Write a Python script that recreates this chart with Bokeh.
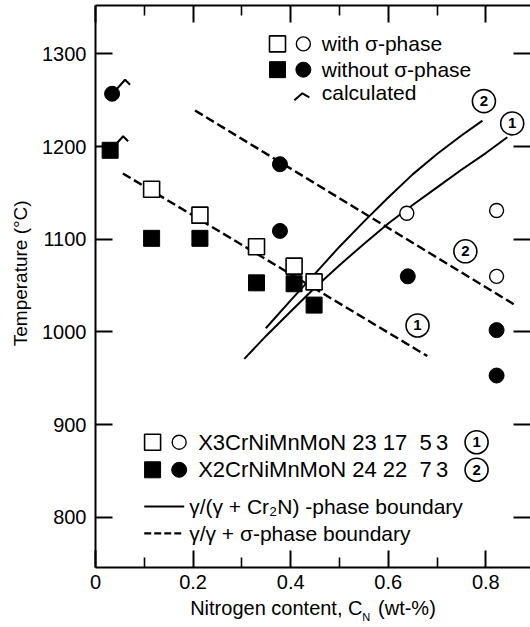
from bokeh.plotting import figure
from bokeh.models import Range1d, LinearAxis, FixedTicker
from bokeh.core.properties import value
from bokeh.embed import file_html
from bokeh.resources import INLINE

FONT = "Liberation Sans"

# ---------------- data ----------------
# open = with sigma-phase, filled = without sigma-phase
open_sq_x = [0.115, 0.214, 0.330, 0.407, 0.448]
open_sq_y = [1154, 1126, 1092, 1071, 1054]
fill_sq_x = [0.030, 0.115, 0.214, 0.330, 0.407, 0.448]
fill_sq_y = [1196, 1101, 1101, 1053, 1052, 1029]
open_ci_x = [0.638, 0.822, 0.822]
open_ci_y = [1128, 1131, 1060]
fill_ci_x = [0.034, 0.378, 0.378, 0.640, 0.822, 0.822]
fill_ci_y = [1257, 1181, 1109, 1060, 1002, 953]
calc_x = [0.034, 0.030]
calc_y = [1257, 1196]

# gamma / gamma + sigma boundaries (dashed)
sigma1_x = [0.056, 0.680]
sigma1_y = [1171, 974]
sigma2_x = [0.204, 0.857]
sigma2_y = [1239, 1030]
# gamma / (gamma + Cr2N) boundaries (solid)
cr2n1_x = [0.305, 0.35, 0.40, 0.45, 0.50, 0.55, 0.60, 0.65, 0.70, 0.75, 0.80, 0.844]
cr2n1_y = [971, 996, 1022, 1048, 1072, 1095, 1117, 1137, 1156, 1175, 1193, 1210]
cr2n2_x = [0.349, 0.40, 0.45, 0.50, 0.55, 0.60, 0.65, 0.70, 0.75, 0.793]
cr2n2_y = [1004, 1034, 1063, 1092, 1119, 1145, 1170, 1192, 1212, 1228]

# circled curve labels
tag_x = [0.796, 0.854, 0.758, 0.660]
tag_y = [1249, 1225, 1087, 1007]
tag_t = ["2", "1", "2", "1"]

x_ticks = [0, 0.2, 0.4, 0.6, 0.8]
x_tick_labels = ["0", "0.2", "0.4", "0.6", "0.8"]
x_minor = [0.1, 0.3, 0.5, 0.7]
y_ticks = [800, 900, 1000, 1100, 1200, 1300]

X_RANGE = (0.0, 0.8915)
Y_RANGE = (745.9, 1352.2)

p = figure(width=530, height=627, output_backend="svg", toolbar_location=None,
           x_range=Range1d(*X_RANGE), y_range=Range1d(*Y_RANGE),
           min_border_left=95, min_border_right=0, min_border_top=5,
           min_border_bottom=60)
p.grid.visible = False
p.outline_line_color = None
p.background_fill_color = "white"
p.border_fill_color = "white"

# pixel -> data helpers for small decorations
plot_w = 530 - 95
plot_h = 627 - 5 - 60
DX = (X_RANGE[1] - X_RANGE[0]) / plot_w
DY = (Y_RANGE[1] - Y_RANGE[0]) / plot_h


def style_axis(ax, ticks, minor, show_labels):
    ax.ticker = FixedTicker(ticks=ticks, minor_ticks=minor)
    ax.axis_line_width = 2
    ax.axis_line_color = "black"
    ax.major_tick_line_width = 2
    ax.major_tick_line_color = "black"
    ax.major_tick_in = 17
    ax.major_tick_out = 0
    ax.minor_tick_line_width = 1.6
    ax.minor_tick_line_color = "black"
    ax.minor_tick_in = 10
    ax.minor_tick_out = 0
    ax.major_label_text_font = FONT
    ax.major_label_text_font_size = "20px" if show_labels else "0px"
    ax.major_label_text_color = "black"
    if not show_labels:
        ax.major_label_standoff = 0


xb = p.xaxis[0]
style_axis(xb, x_ticks, x_minor, True)
xb.major_label_overrides = {t: s for t, s in zip(x_ticks, x_tick_labels)}
xb.major_label_standoff = 7
xb.axis_label = "Nitrogen content, C\u2002 (wt-%)"
xb.axis_label_text_font = FONT
xb.axis_label_text_font_size = "20px"
xb.axis_label_text_font_style = "normal"
xb.axis_label_text_color = "black"
xb.axis_label_standoff = 5

# subscript "N" of C_N, as a label of a bare second axis
sub_x = round((366 - 95) * DX, 3)
xs = LinearAxis(ticker=FixedTicker(ticks=[sub_x], minor_ticks=[]))
xs.major_label_overrides = {sub_x: "N"}
xs.axis_line_color = None
xs.major_tick_line_color = None
xs.minor_tick_line_color = None
xs.major_tick_in = 0
xs.major_tick_out = 0
xs.major_label_text_font = FONT
xs.major_label_text_font_size = "11px"
xs.major_label_text_color = "black"
xs.major_label_standoff = -11
p.add_layout(xs, "below")

yl = p.yaxis[0]
style_axis(yl, y_ticks, [], True)
yl.major_label_standoff = 9
yl.axis_label = "\u00a0" * 5 + "Temperature (\u00b0C)"
yl.axis_label_text_font = FONT
yl.axis_label_text_font_size = "19px"
yl.axis_label_text_font_style = "normal"
yl.axis_label_text_color = "black"
yl.axis_label_standoff = 8

xa = LinearAxis()
style_axis(xa, x_ticks, x_minor, False)
xa.major_label_overrides = {t: "" for t in x_ticks}
p.add_layout(xa, "above")

yr = LinearAxis()
style_axis(yr, y_ticks, [], False)
yr.major_label_overrides = {t: "" for t in y_ticks}
yr.axis_line_color = None
p.add_layout(yr, "right")

# ---------------- boundary lines ----------------
p.line(sigma1_x, sigma1_y, line_color="black", line_width=2.4, line_dash="9 4")
p.line(sigma2_x, sigma2_y, line_color="black", line_width=2.4, line_dash="9 4")
p.line(cr2n1_x, cr2n1_y, line_color="black", line_width=2)
p.line(cr2n2_x, cr2n2_y, line_color="black", line_width=2)

# ---------------- markers ----------------
p.scatter(fill_sq_x, fill_sq_y, marker="square", size=16, fill_color="black",
          line_color="black", line_width=1)
p.scatter(open_sq_x, open_sq_y, marker="square", size=16, fill_color="white",
          line_color="black", line_width=1.6)
p.scatter(fill_ci_x, fill_ci_y, marker="circle", size=15, fill_color="black",
          line_color="black", line_width=1)
p.scatter(open_ci_x, open_ci_y, marker="circle", size=14, fill_color="white",
          line_color="black", line_width=1.4)

# "calculated" hooks
hook = [(4, 4), (13, 14), (18, 9)]  # pixel offsets (right, up)
hx = [[cx + dx * DX for dx, dy in hook] for cx in calc_x]
hy = [[cy + dy * DY for dx, dy in hook] for cy in calc_y]
p.multi_line(hx, hy, line_color="black", line_width=2)


# circled labels on curves
def circled(xs_, ys_, ts):
    p.scatter(xs_, ys_, marker="circle", size=23, fill_color="white",
              line_color="black", line_width=1.6)
    p.text(xs_, ys_, text=ts, text_font=value(FONT), text_font_size="15px",
           text_font_style="bold", text_align="center",
           text_baseline="middle", text_color="black")


circled(tag_x, tag_y, tag_t)

# ---------------- upper legend ----------------
LG_FS = "21px"
lx_sq, lx_ci, lx_txt = 0.373, 0.426, 0.4637
ly = [1310.8, 1283.0, 1258.5]
p.scatter([lx_sq], [ly[0]], marker="square", size=16, fill_color="white",
          line_color="black", line_width=1.6)
p.scatter([lx_ci], [ly[0]], marker="circle", size=14, fill_color="white",
          line_color="black", line_width=1.4)
p.scatter([lx_sq], [ly[1]], marker="square", size=16, fill_color="black",
          line_color="black")
p.scatter([lx_ci], [ly[1]], marker="circle", size=15, fill_color="black",
          line_color="black")
lhook = [(-9, -8), (-1, -1), (6, -5)]
p.line([lx_ci + dx * DX for dx, dy in lhook], [ly[2] + dy * DY for dx, dy in lhook],
       line_color="black", line_width=2)
p.text([lx_txt] * 3, ly, text=["with \u03c3-phase", "without \u03c3-phase", "calculated"],
       text_font=value(FONT), text_font_size=LG_FS, text_baseline="middle",
       text_align="left", text_color="black")

# ---------------- lower legend ----------------
bx_sq, bx_ci, bx_txt, bx_tag = 0.117, 0.1715, 0.2104, 0.781
by = [881.1, 851.3]
p.scatter([bx_sq], [by[0]], marker="square", size=16, fill_color="white",
          line_color="black", line_width=1.6)
p.scatter([bx_ci], [by[0]], marker="circle", size=14, fill_color="white",
          line_color="black", line_width=1.4)
p.scatter([bx_sq], [by[1]], marker="square", size=16, fill_color="black",
          line_color="black")
p.scatter([bx_ci], [by[1]], marker="circle", size=15, fill_color="black",
          line_color="black")
p.text([bx_txt] * 2, by,
       text=["X3CrNiMnMoN 23 17\u00a0 5\u20093", "X2CrNiMnMoN 24 22\u00a0 7\u20093"],
       text_font=value(FONT), text_font_size="22px", text_baseline="middle",
       text_align="left", text_color="black")
circled([bx_tag, bx_tag], by, ["1", "2"])

lnx0, lnx1, lnx_txt = 0.0999, 0.1818, 0.192
lny = [811.6, 782.7]
p.line([lnx0, lnx1], [lny[0]] * 2, line_color="black", line_width=2)
p.line([lnx0, lnx1], [lny[1]] * 2, line_color="black", line_width=2.4, line_dash="7 3")
p.text([lnx_txt] * 2, lny,
       text=["\u03b3/(\u03b3 + Cr\u2082N) -phase boundary", "\u03b3/\u03b3 + \u03c3-phase boundary"],
       text_font=value(FONT), text_font_size=LG_FS, text_baseline="middle",
       text_align="left", text_color="black")

open("out.html", "w").write(file_html(p, INLINE))
